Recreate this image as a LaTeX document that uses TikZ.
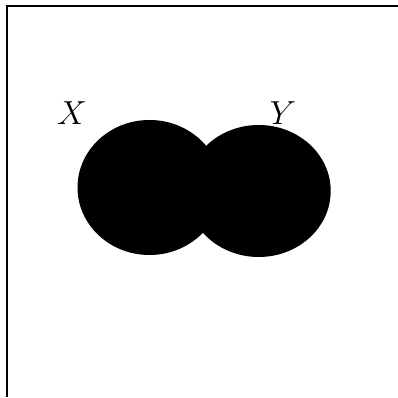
\documentclass[tikz,border=0pt]{standalone}
\usepackage{tikz}
\usetikzlibrary{positioning}

\begin{document}
\begin{tikzpicture}[x=0.36pt,y=-0.36pt,
    setlabel/.style={inner sep=0pt,font=\large}]
  \useasboundingbox (0,0) rectangle (398,398);
  \draw[line width=1pt] (398,6) -- (7,6) -- (7,397);
  \fill (149.5,187.5) ellipse [x radius=72,y radius=67.5];
  \fill (258.7,191) ellipse [x radius=72,y radius=66];
  \node[setlabel] (lx) at (72,113) {$X$};
  \node[setlabel] (ly) at (283,113) {$Y$};
\end{tikzpicture}
\end{document}
